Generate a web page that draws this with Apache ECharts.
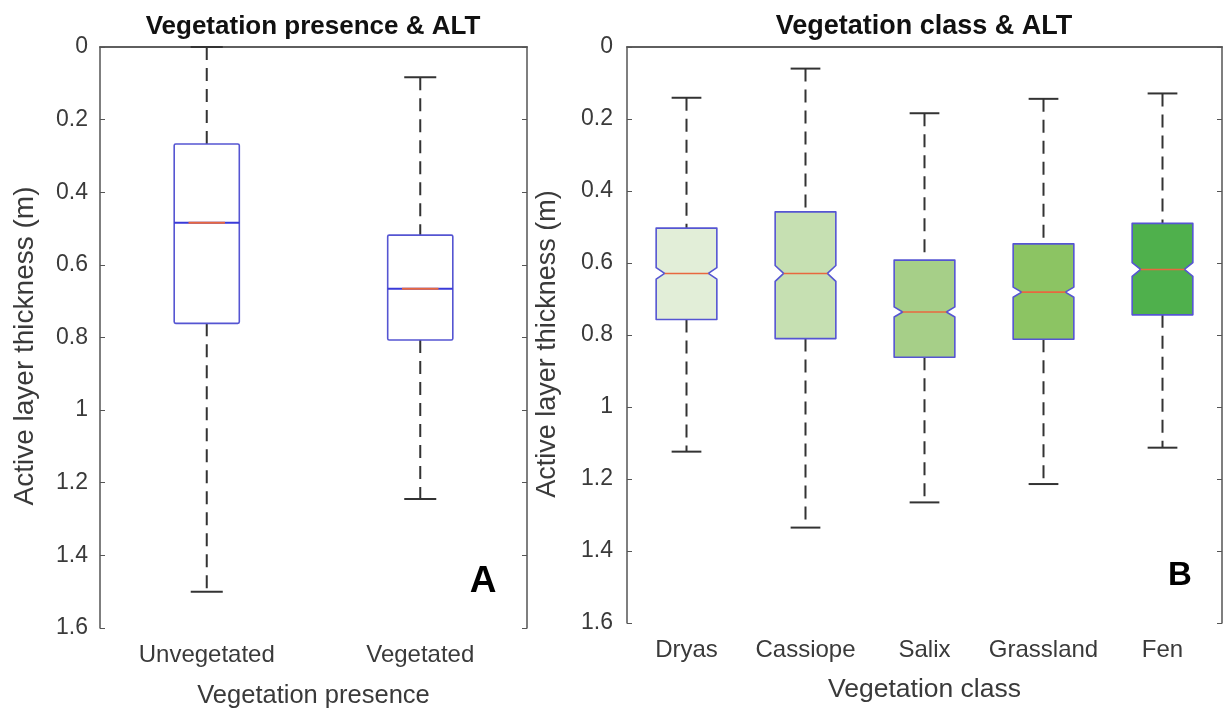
<!DOCTYPE html>
<html>
<head>
<meta charset="utf-8">
<title>Active layer thickness by vegetation</title>
<script src="https://cdn.jsdelivr.net/npm/echarts@6/dist/echarts.min.js"></script>
<style>
  html, body { margin: 0; padding: 0; background: #ffffff; }
  #chart { width: 1224px; height: 708px; }
</style>
</head>
<body>
<div id="chart"></div>
<script>
// Panel A: vegetation presence (values in metres, depth increases downward)
const presenceCategories = ['Unvegetated', 'Vegetated'];
const presenceWhiskerTop = [0.000, 0.083];
const presenceQ1 = [0.267, 0.518];
const presenceMedian = [0.484, 0.666];
const presenceQ3 = [0.761, 0.807];
const presenceWhiskerBottom = [1.500, 1.245];

// Panel B: vegetation class
const classCategories = ['Dryas', 'Cassiope', 'Salix', 'Grassland', 'Fen'];
const classWhiskerTop = [0.141, 0.060, 0.184, 0.144, 0.129];
const classQ1 = [0.503, 0.458, 0.592, 0.547, 0.490];
const classMedian = [0.629, 0.629, 0.736, 0.681, 0.618];
const classQ3 = [0.757, 0.810, 0.862, 0.812, 0.744];
const classWhiskerBottom = [1.124, 1.335, 1.265, 1.214, 1.113];
const classNotchHalf = [0.016, 0.022, 0.014, 0.014, 0.019];
const classFills = ['#e2eed8', '#c6e0b2', '#a6cf88', '#8cc463', '#4fb04c'];

// Depth axis ticks
const depthMin = 0;
const depthMax = 1.6;
const depthStep = 0.2;

const FONT = '"Liberation Sans", Arial, Helvetica, sans-serif';
const AXIS_COLOR = '#555555';
const LABEL_COLOR = '#3a3a3a';
const BOX_EDGE = '#5555d2';
const MEDIAN_RED = '#e8683f';
const WHISKER = '#333333';

function buildRows(whTop, q1, med, q3, whBot, notch) {
  return whTop.map((_, i) => [i, whTop[i], q1[i], med[i], q3[i], whBot[i], notch ? notch[i] : 0]);
}

function makeRenderer(opts) {
  return function (params, api) {
    const i = api.value(0);
    const band = api.size([1, 0])[0];
    const cx = api.coord([i, 0])[0];
    const Y = v => api.coord([i, v])[1];
    const wTop = Y(api.value(1)), q1 = Y(api.value(2)), med = Y(api.value(3));
    const q3 = Y(api.value(4)), wBot = Y(api.value(5));
    const nh = api.value(6);
    const bw = band * opts.boxFrac, capW = band * opts.capFrac;
    const xl = cx - bw / 2, xr = cx + bw / 2;
    const dash = { stroke: WHISKER, lineWidth: 2, lineDash: opts.dash };
    const solid = { stroke: WHISKER, lineWidth: 2 };
    const children = [
      { type: 'line', shape: { x1: cx, y1: wTop, x2: cx, y2: q1 }, style: dash },
      { type: 'line', shape: { x1: cx, y1: q3, x2: cx, y2: wBot }, style: dash },
      { type: 'line', shape: { x1: cx - capW / 2, y1: wTop, x2: cx + capW / 2, y2: wTop }, style: solid },
      { type: 'line', shape: { x1: cx - capW / 2, y1: wBot, x2: cx + capW / 2, y2: wBot }, style: solid }
    ];
    const fill = opts.fills ? opts.fills[i] : 'rgba(255,255,255,0)';
    if (nh > 0) {
      const nTop = Y(api.value(3) - nh), nBot = Y(api.value(3) + nh);
      const inset = bw * opts.notchInset;
      children.push({
        type: 'polygon',
        shape: { points: [
          [xl, q1], [xr, q1], [xr, nTop], [xr - inset, med], [xr, nBot],
          [xr, q3], [xl, q3], [xl, nBot], [xl + inset, med], [xl, nTop]
        ] },
        style: { fill: fill, stroke: BOX_EDGE, lineWidth: 1.6, lineJoin: 'round' }
      });
      children.push({ type: 'line', shape: { x1: xl + inset, y1: med, x2: xr - inset, y2: med },
        style: { stroke: MEDIAN_RED, lineWidth: 1.6 } });
    } else {
      children.push({ type: 'rect', shape: { x: xl, y: q1, width: bw, height: q3 - q1, r: 1.5 },
        style: { fill: fill, stroke: BOX_EDGE, lineWidth: 1.6 } });
      children.push({ type: 'line', shape: { x1: xl, y1: med, x2: xr, y2: med },
        style: { stroke: '#3a3ad8', lineWidth: 2 } });
      children.push({ type: 'line', shape: { x1: xl + bw * 0.22, y1: med, x2: xr - bw * 0.22, y2: med },
        style: { stroke: MEDIAN_RED, lineWidth: 2 } });
    }
    return { type: 'group', children: children };
  };
}

function categoryAxes(gridIndex, cats, name, nameSize, nameGap) {
  return [
    {
      gridIndex: gridIndex, type: 'category', data: cats, position: 'bottom',
      axisLine: { lineStyle: { color: AXIS_COLOR, width: 1.5 } },
      axisTick: { inside: true, alignWithLabel: true, length: 5, lineStyle: { color: AXIS_COLOR } },
      axisLabel: { fontFamily: FONT, fontSize: 24, color: LABEL_COLOR, margin: 15, interval: 0, hideOverlap: false },
      name: name, nameLocation: 'middle', nameGap: nameGap,
      nameTextStyle: { fontFamily: FONT, fontSize: nameSize, color: LABEL_COLOR }
    },
    {
      gridIndex: gridIndex, type: 'category', data: cats, position: 'top',
      axisLine: { lineStyle: { color: AXIS_COLOR, width: 1.5 } },
      axisTick: { inside: true, alignWithLabel: true, length: 5, lineStyle: { color: AXIS_COLOR } },
      axisLabel: { show: false }
    }
  ];
}

function depthAxes(gridIndex, margin) {
  const base = {
    gridIndex: gridIndex, type: 'value', inverse: true,
    min: depthMin, max: depthMax, interval: depthStep,
    splitLine: { show: false },
    axisLine: { show: true, lineStyle: { color: AXIS_COLOR, width: 1.5 } },
    axisTick: { show: true, inside: true, length: 5, lineStyle: { color: AXIS_COLOR } }
  };
  return [
    Object.assign({}, base, {
      position: 'left',
      axisLabel: { fontFamily: FONT, fontSize: 23, color: LABEL_COLOR, margin: margin }
    }),
    Object.assign({}, base, { position: 'right', axisLabel: { show: false } })
  ];
}

const chart = echarts.init(document.getElementById('chart'), null, { renderer: 'canvas' });

chart.setOption({
  backgroundColor: '#ffffff',
  animation: false,
  grid: [
    { left: 100, top: 47, width: 427, height: 581, outerBoundsMode: 'none', containLabel: false },
    { left: 627, top: 47, width: 595, height: 576, outerBoundsMode: 'none', containLabel: false }
  ],
  xAxis: categoryAxes(0, presenceCategories, 'Vegetation presence', 25.5, 55)
    .concat(categoryAxes(1, classCategories, 'Vegetation class', 26.5, 53)),
  yAxis: depthAxes(0, 12).concat(depthAxes(1, 14)),
  series: [
    {
      type: 'custom', xAxisIndex: 0, yAxisIndex: 0,
      encode: { x: 0, y: [1, 2, 3, 4, 5] },
      renderItem: makeRenderer({ boxFrac: 0.305, capFrac: 0.15, dash: [13, 8] }),
      data: buildRows(presenceWhiskerTop, presenceQ1, presenceMedian, presenceQ3, presenceWhiskerBottom, null)
    },
    {
      type: 'custom', xAxisIndex: 2, yAxisIndex: 2,
      encode: { x: 0, y: [1, 2, 3, 4, 5] },
      renderItem: makeRenderer({ boxFrac: 0.51, capFrac: 0.25, dash: [13, 8], notchInset: 0.14, fills: classFills }),
      data: buildRows(classWhiskerTop, classQ1, classMedian, classQ3, classWhiskerBottom, classNotchHalf)
    }
  ],
  graphic: [
    { type: 'text', x: 313, y: 27, style: { text: 'Vegetation presence & ALT', font: 'bold 26px ' + FONT, fill: '#111', align: 'center', verticalAlign: 'middle' } },
    { type: 'text', x: 924, y: 27, style: { text: 'Vegetation class & ALT', font: 'bold 27px ' + FONT, fill: '#111', align: 'center', verticalAlign: 'middle' } },
    { type: 'text', x: 25, y: 346, rotation: Math.PI / 2, style: { text: 'Active layer thickness (m)', font: '28px ' + FONT, fill: LABEL_COLOR, align: 'center', verticalAlign: 'middle' } },
    { type: 'text', x: 548, y: 344, rotation: Math.PI / 2, style: { text: 'Active layer thickness (m)', font: '27px ' + FONT, fill: LABEL_COLOR, align: 'center', verticalAlign: 'middle' } },
    { type: 'text', x: 483, y: 582, style: { text: 'A', font: 'bold 37px ' + FONT, fill: '#000', align: 'center', verticalAlign: 'middle' } },
    { type: 'text', x: 1180, y: 576, style: { text: 'B', font: 'bold 33px ' + FONT, fill: '#000', align: 'center', verticalAlign: 'middle' } }
  ]
});
</script>
</body>
</html>
